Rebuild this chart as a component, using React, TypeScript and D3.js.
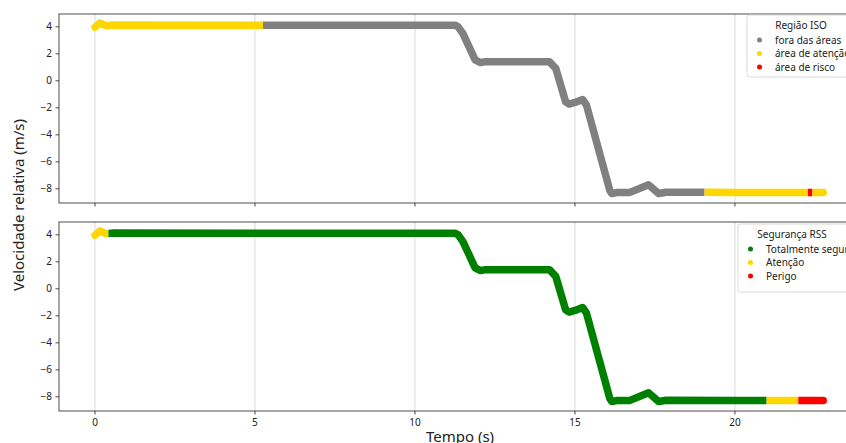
import React from "react";
import * as d3 from "d3";

// ---- data ----
const time = [0, 0.15, 0.35, 0.6, 5, 11.25, 11.35, 11.5, 11.88, 12.05, 12.2, 14.2, 14.4, 14.71, 14.82, 15.0, 15.24, 15.36, 16.09, 16.15, 16.3, 16.7, 17.3, 17.62, 17.85, 20, 22.76];
const velocity = [3.97, 4.28, 4.08, 4.14, 4.12, 4.12, 4.0, 3.5, 1.55, 1.35, 1.42, 1.42, 0.92, -1.56, -1.72, -1.6, -1.38, -1.8, -8.13, -8.35, -8.28, -8.28, -7.7, -8.35, -8.25, -8.27, -8.27];

const isoBreaks = [0, 5.25, 19.05, 22.28, 22.42, 22.76];
const isoClasses = ["atencao", "fora", "atencao", "risco", "atencao"];
const rssBreaks = [0, 0.42, 20.99, 21.98, 22.76];
const rssClasses = ["atencao", "seguro", "atencao", "perigo"];

const isoLegend = [
  { key: "fora", label: "fora das áreas" },
  { key: "atencao", label: "área de atenção" },
  { key: "risco", label: "área de risco" },
];
const rssLegend = [
  { key: "seguro", label: "Totalmente seguro" },
  { key: "atencao", label: "Atenção" },
  { key: "perigo", label: "Perigo" },
];
const xTicks = [0, 5, 10, 15, 20];
const yTicks = [-8, -6, -4, -2, 0, 2, 4];

const colors: Record<string, string> = {
  fora: "#808080",
  atencao: "#FFD700",
  risco: "#FF0000",
  seguro: "#008000",
  perigo: "#FF0000",
};

const W = 846;
const H = 443;
const FONT = "'Noto Sans', 'Open Sans', sans-serif";

const x = d3.scaleLinear().domain([-1.125, 23.94]).range([59, 861]);

function Panel({ id, top, bottom, breaks, classes, legend, title, legendX, legendY, legendH, showXLabels }: any) {
  const y = d3.scaleLinear().domain([-9.05, 4.95]).range([bottom, top]);
  const pts = time.map((t, i) => [t, velocity[i]] as [number, number]);
  const line = d3.line<[number, number]>().x((d) => x(d[0])).y((d) => y(d[1]))(pts) || "";
  const segs = classes.map((c: string, i: number) => {
    const a = i === 0 ? -5 : breaks[i];
    const b = i === classes.length - 1 ? 30 : breaks[i + 1];
    return { c, a, b, i };
  });
  return (
    <g>
      <defs>
        {segs.map((s: any) => (
          <clipPath id={`${id}-clip-${s.i}`} key={s.i}>
            <rect x={x(s.a)} y={top - 20} width={x(s.b) - x(s.a)} height={bottom - top + 40} />
          </clipPath>
        ))}
        <clipPath id={`${id}-axes`}>
          <rect x={59} y={top} width={861 - 59} height={bottom - top} />
        </clipPath>
      </defs>
      {xTicks.map((t) => (
        <line key={t} x1={x(t)} x2={x(t)} y1={top} y2={bottom} stroke="#b0b0b0" strokeOpacity={0.6} strokeWidth={0.8} />
      ))}
      <g clipPath={`url(#${id}-axes)`}>
        {segs.map((s: any) => (
          <path key={s.i} d={line} fill="none" stroke={colors[s.c]} strokeWidth={7.5} strokeLinecap="round" strokeLinejoin="round" clipPath={`url(#${id}-clip-${s.i})`} />
        ))}
      </g>
      <rect x={59} y={top} width={861 - 59} height={bottom - top} fill="none" stroke="#222" strokeWidth={0.8} />
      {yTicks.map((v) => (
        <g key={v}>
          <line x1={59} x2={55.5} y1={y(v)} y2={y(v)} stroke="#222" strokeWidth={0.8} />
          <text x={52} y={y(v)} dy="0.35em" textAnchor="end" fontSize={10} fontFamily={FONT} fill="#222">
            {v < 0 ? "\u2212" + Math.abs(v) : String(v)}
          </text>
        </g>
      ))}
      {xTicks.map((t) => (
        <g key={t}>
          <line x1={x(t)} x2={x(t)} y1={bottom} y2={bottom + 3.5} stroke="#222" strokeWidth={0.8} />
          {showXLabels && (
            <text x={x(t)} y={bottom + 14.5} textAnchor="middle" fontSize={10} fontFamily={FONT} fill="#222">
              {t}
            </text>
          )}
        </g>
      ))}
      <g>
        <rect x={legendX} y={legendY} width={120} height={legendH} rx={2.5} fill="#fff" fillOpacity={0.8} stroke="#d0d0d0" strokeWidth={0.8} />
        <text x={legendX + 54} y={legendY + 10} dy="0.35em" textAnchor="middle" fontSize={10} fontFamily={FONT} fill="#222">
          {title}
        </text>
        {legend.map((l: any, i: number) => (
          <g key={l.key}>
            <circle cx={legendX + 12.5} cy={legendY + 25 + i * 13.5} r={2.5} fill={colors[l.key]} />
            <text x={legendX + 28} y={legendY + 25 + i * 13.5} dy="0.35em" fontSize={10} fontFamily={FONT} fill="#222">
              {l.label}
            </text>
          </g>
        ))}
      </g>
    </g>
  );
}

export default function App() {
  return (
    <svg width={W} height={H} style={{ position: "fixed", left: 0, top: 0, background: "#fff" }}>
      <rect x={0} y={0} width={W} height={H} fill="#fff" />
      <Panel id="top" top={14} bottom={203} breaks={isoBreaks} classes={isoClasses} legend={isoLegend} title="Região ISO" legendX={747} legendY={15} legendH={62} showXLabels={false} />
      <Panel id="bot" top={222} bottom={411} breaks={rssBreaks} classes={rssClasses} legend={rssLegend} title="Segurança RSS" legendX={738} legendY={224} legendH={68} showXLabels={true} />
      <text transform="translate(24,205) rotate(-90)" textAnchor="middle" fontSize={15} fontFamily={FONT} fill="#222">
        Velocidade relativa (m/s)
      </text>
      <text x={460} y={441.5} textAnchor="middle" fontSize={15} fontFamily={FONT} fill="#222">
        Tempo (s)
      </text>
    </svg>
  );
}
